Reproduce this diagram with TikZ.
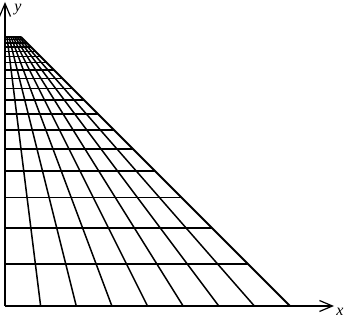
\documentclass[tikz,border=0pt]{standalone}
\usepackage{fontspec}
\setmainfont{Liberation Serif}
\usepackage{tikz}
\usetikzlibrary{arrows.meta,calc}

\begin{document}
\begin{tikzpicture}[
  x=1pt,y=1pt,
  gridline/.style={line width=1.5pt,black},
  rim/.style={line width=2pt,black},
  axis/.style={line width=1.5pt,-{Straight Barb[length=13pt,width=11pt,line width=1.2pt]}},
  axlabel/.style={font=\fontsize{16}{18}\selectfont\itshape,inner sep=0pt}
]
\useasboundingbox (-5,-15) rectangle (339,306);
\def\side{285}
\def\ratio{0.852}
\coordinate (O) at (0,0);
\coordinate (V) at (0,\side);
% rows shrink by a constant ratio towards V
\foreach \k in {1,...,18}{
  \pgfmathsetmacro\d{\side*\ratio^\k}
  \draw[gridline] ($(V)+(0,-\d)$) -- ($(V)+(\d,-\d)$);
}
% columns meet in V
\pgfmathsetmacro\dtop{\side*\ratio^18}
\coordinate (T) at ($(V)+(0,-\dtop)$);
\foreach \j in {1,...,7}{
  \draw[gridline] ($(O)+(\j*\side/8,0)$) -- ($(T)+(\j*\dtop/8,0)$);
}
\coordinate (B) at (\side,0);
\coordinate (R) at ($(T)+(\dtop,0)$);
\draw[rim] (B) -- (R);
\draw[rim] (O) -- (B);
\draw[rim] (T) -- (R);
% axes
\coordinate (xend) at (329,0);
\coordinate (yend) at (0,304);
\draw[axis] (O) -- (xend);
\draw[axis] (O) -- (yend);
\node[axlabel] (xl) at (335,-6) {x};
\node[axlabel] (yl) at (13,296) {y};
\end{tikzpicture}
\end{document}
